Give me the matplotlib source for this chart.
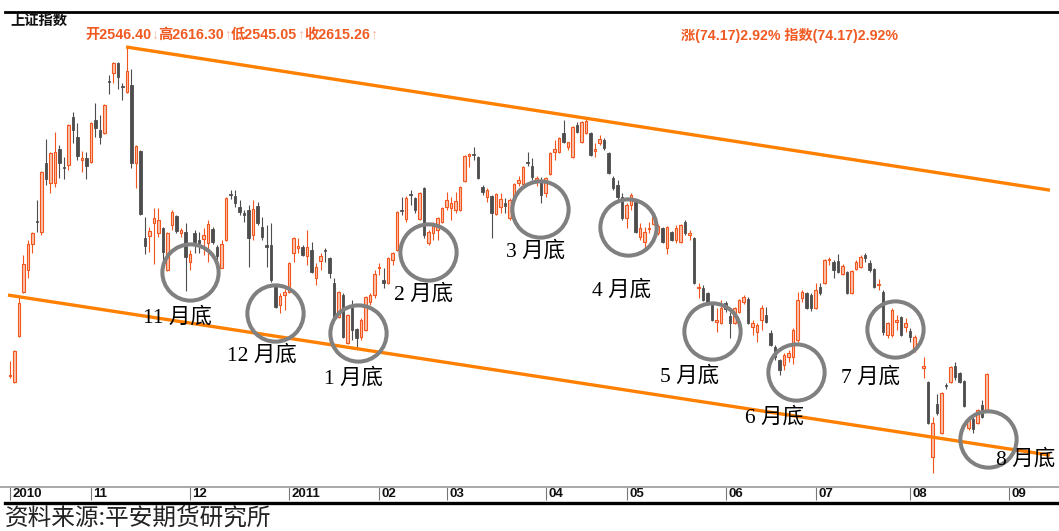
import numpy as np
import matplotlib
matplotlib.use("Agg")
import matplotlib.pyplot as plt
from matplotlib.lines import Line2D
from matplotlib.transforms import offset_copy

plt.rcParams['font.family'] = ['Noto Sans CJK SC', 'DejaVu Sans']

# ---------------- data (上证指数 daily OHLC) ----------------
opens = [2611, 2600, 2684, 2765, 2805, 2852, 2895, 2874, 3001, 2964, 2964, 3026, 2993, 2997, 3085, 3048, 3006, 3010, 3003, 3079,
         3061, 3056, 3151, 3165, 3184, 3142, 3131, 3143, 3001, 3023, 2863, 2867, 2891, 2873, 2882, 2805, 2887, 2904, 2873, 2874,
         2820, 2873, 2860, 2862, 2854, 2880, 2847, 2809, 2860, 2944, 2940, 2920, 2909, 2915, 2869, 2922, 2884, 2851, 2851, 2776,
         2741, 2759, 2765, 2836, 2845, 2847, 2831, 2842, 2790, 2821, 2841, 2827, 2781, 2719, 2759, 2671, 2735, 2697, 2682, 2695,
         2746, 2759, 2809, 2787, 2781, 2823, 2842, 2915, 2898, 2944, 2937, 2898, 2955, 2854, 2873, 2878, 2893, 2920, 2918, 2915,
         2915, 2968, 3014, 3017, 3012, 2957, 2938, 2940, 2907, 2920, 2927, 2900, 2933, 2964, 2962, 3002, 2995, 2970, 2966, 2946,
         2981, 3021, 3021, 3056, 3030, 3012, 3070, 3039, 3056, 3056, 3023, 3037, 3043, 3019, 2973, 2960, 2938, 2900, 2924, 2929,
         2865, 2856, 2880, 2889, 2873, 2882, 2845, 2874, 2860, 2856, 2893, 2869, 2863, 2772, 2772, 2763, 2744, 2710, 2708, 2744,
         2721, 2708, 2728, 2746, 2752, 2701, 2691, 2713, 2723, 2690, 2664, 2640, 2631, 2646, 2646, 2677, 2754, 2763, 2759, 2735,
         2774, 2781, 2823, 2820, 2821, 2798, 2801, 2763, 2807, 2810, 2832, 2818, 2807, 2777, 2765, 2686, 2686, 2710, 2719, 2701,
         2693, 2658, np.nan, 2625, 2600, 2463, 2560, 2507, 2595, 2600, 2629, 2616, 2602, 2516, 2532, 2525, 2558, 2546.40]
highs = [2638, 2659, 2755, 2832, 2860, 2874, 2933, 2986, 3045, 3020, 3057, 3034, 3012, 3072, 3094, 3074, 3023, 3021, 3076, 3111,
         3089, 3109, 3162, 3186, 3186, 3147, 3213, 3173, 3033, 3025, 2902, 2884, 2918, 2918, 2884, 2875, 2915, 2906, 2882, 2891,
         2842, 2878, 2874, 2882, 2896, 2884, 2851, 2860, 2939, 2951, 2951, 2933, 2915, 2924, 2933, 2929, 2902, 2887, 2891, 2778,
         2763, 2770, 2820, 2865, 2863, 2851, 2878, 2856, 2818, 2836, 2845, 2829, 2790, 2767, 2763, 2725, 2750, 2699, 2717, 2757,
         2763, 2805, 2818, 2809, 2829, 2838, 2913, 2938, 2940, 2951, 2938, 2948, 2957, 2878, 2893, 2902, 2920, 2948, 2938, 2948,
         2959, 3016, 3019, 3030, 3014, 2960, 2955, 2942, 2946, 2946, 2937, 2937, 2964, 2977, 2995, 3021, 3010, 2977, 2975, 2975,
         3021, 3043, 3048, 3079, 3040, 3069, 3076, 3078, 3083, 3058, 3037, 3052, 3047, 3021, 2977, 2970, 2946, 2928, 2946, 2931,
         2891, 2884, 2893, 2904, 2889, 2884, 2886, 2876, 2887, 2889, 2896, 2878, 2865, 2781, 2777, 2765, 2746, 2735, 2750, 2748,
         2728, 2737, 2752, 2759, 2755, 2713, 2708, 2741, 2737, 2695, 2668, 2642, 2653, 2658, 2699, 2765, 2768, 2765, 2763, 2781,
         2781, 2825, 2829, 2823, 2834, 2815, 2803, 2805, 2823, 2832, 2836, 2823, 2809, 2788, 2768, 2710, 2735, 2723, 2721, 2717,
         2699, 2686, np.nan, 2646, 2602, 2536, 2578, 2582, 2598, 2629, 2637, 2618, 2604, 2534, 2536, 2551, 2567, 2616.30]
lows = [2607, 2598, 2682, 2763, 2790, 2836, 2874, 2869, 2960, 2946, 2957, 2973, 2971, 2988, 3037, 3006, 2984, 2971, 3000, 3048,
        3035, 3054, 3127, 3147, 3136, 3116, 3129, 2992, 2955, 2905, 2834, 2838, 2816, 2865, 2816, 2803, 2878, 2873, 2865, 2767,
        2805, 2836, 2836, 2832, 2820, 2853, 2809, 2808, 2858, 2935, 2920, 2906, 2893, 2810, 2860, 2887, 2860, 2810, 2783, 2735,
        2726, 2732, 2763, 2820, 2836, 2830, 2814, 2799, 2777, 2805, 2820, 2790, 2717, 2717, 2680, 2669, 2677, 2664, 2677, 2693,
        2741, 2754, 2796, 2772, 2779, 2814, 2840, 2906, 2893, 2924, 2909, 2896, 2863, 2851, 2860, 2860, 2891, 2915, 2896, 2909,
        2913, 2966, 2993, 3006, 2971, 2942, 2929, 2863, 2905, 2909, 2909, 2896, 2931, 2959, 2960, 2995, 2970, 2959, 2927, 2938,
        2979, 3006, 3019, 3037, 3024, 3010, 3056, 3037, 3054, 3013, 3012, 3034, 3024, 2980, 2951, 2933, 2896, 2882, 2915, 2872,
        2860, 2845, 2873, 2887, 2869, 2854, 2834, 2858, 2854, 2854, 2869, 2860, 2779, 2754, 2748, 2744, 2711, 2691, 2706, 2728,
        2680, 2706, 2726, 2743, 2706, 2686, 2673, 2695, 2708, 2666, 2640, 2613, 2622, 2637, 2633, 2673, 2746, 2733, 2730, 2733,
        2759, 2779, 2814, 2790, 2799, 2796, 2761, 2761, 2805, 2808, 2820, 2801, 2772, 2768, 2686, 2680, 2682, 2695, 2684, 2691,
        2673, 2655, np.nan, 2607, 2523, 2433, 2540, 2505, 2587, 2598, 2604, 2598, 2554, 2512, 2507, 2523, 2534, 2545.05]
closes = [2613, 2657, 2744, 2816, 2852, 2873, 2893, 2984, 2971, 3019, 3021, 3001, 2992, 3070, 3061, 3014, 3010, 2995, 3074, 3065,
          3048, 3107, 3149, 3184, 3158, 3140, 3169, 3001, 3032, 2907, 2849, 2876, 2900, 2896, 2838, 2873, 2911, 2876, 2878, 2829,
          2834, 2856, 2854, 2869, 2889, 2856, 2831, 2852, 2937, 2942, 2927, 2911, 2906, 2863, 2917, 2891, 2865, 2847, 2787, 2737,
          2757, 2765, 2818, 2863, 2849, 2832, 2847, 2801, 2810, 2831, 2839, 2799, 2719, 2765, 2682, 2723, 2695, 2680, 2713, 2755,
          2759, 2798, 2810, 2781, 2827, 2836, 2911, 2913, 2937, 2942, 2915, 2946, 2869, 2874, 2889, 2900, 2918, 2933, 2927, 2931,
          2957, 3014, 3017, 3015, 2973, 2948, 2951, 2909, 2944, 2935, 2922, 2933, 2962, 2970, 2993, 3000, 2975, 2973, 2942, 2973,
          3019, 3026, 3046, 3039, 3039, 3067, 3057, 3076, 3078, 3015, 3026, 3045, 3028, 2982, 2955, 2938, 2900, 2924, 2942, 2874,
          2882, 2874, 2882, 2902, 2885, 2856, 2884, 2860, 2882, 2887, 2873, 2873, 2781, 2774, 2750, 2746, 2713, 2713, 2735, 2733,
          2708, 2735, 2750, 2755, 2708, 2708, 2704, 2735, 2710, 2668, 2646, 2622, 2649, 2653, 2695, 2750, 2765, 2735, 2735, 2768,
          2763, 2823, 2825, 2805, 2801, 2812, 2763, 2803, 2820, 2829, 2827, 2805, 2774, 2779, 2691, 2708, 2732, 2713, 2686, 2708,
          2682, 2682, np.nan, 2629, 2525, 2525, 2543, 2580, 2593, 2627, 2609, 2600, 2556, 2530, 2514, 2549, 2536, 2615.26]

month_labels = ['2010', '11', '12', '2011', '02', '03', '04', '05', '06', '07', '08', '09']
month_first_idx = [0, 18, 40, 62, 82, 97, 119, 137, 159, 179, 200, 222]

# channel (trend) lines: (index, price) anchors
upper_line_idx = [25.8, 231.1]
upper_line_val = [3213, 2951]
lower_line_idx = [-0.45, 231.1]
lower_line_val = [2759, 2466]

# month-end bottoms: circle centres and label positions
bottom_names = ['11', '12', '1', '2', '3', '4', '5', '6', '7', '8']
circle_idx = [40.0, 58.9, 77.3, 92.9, 117.8, 137.3, 156.0, 174.7, 196.7, 217.3]
circle_val = [2801, 2726, 2690, 2838, 2917, 2884, 2693, 2618, 2697, 2496]
label_idx = [37.3, 56.0, 76.4, 91.9, 116.9, 136.0, 151.1, 169.8, 191.3, 225.8]
label_val = [2719, 2648, 2607, 2761, 2838, 2768, 2611, 2536, 2609, 2459]

header_left = [("开2546.40", "#F05A22"), ("↓", "#F7B9A2"), ("高2616.30", "#F05A22"), ("↑", "#F7B9A2"),
               ("低2545.05", "#F05A22"), ("↑", "#F7B9A2"), ("收2615.26", "#F05A22"), ("↑", "#F7B9A2")]
header_right = "涨(74.17)2.92% 指数(74.17)2.92%"

# ---------------- figure ----------------
W, H = 1059, 531
fig = plt.figure(figsize=(W / 100, H / 100), dpi=100)
fig.patch.set_facecolor('white')
ax = fig.add_axes([0, 1 - 487 / H, 1, (487 - 12) / H])
ax.set_xlim(-2.222, 233.11)
ax.set_ylim(2407.8, 3277.0)
for s in ['top', 'left', 'right']:
    ax.spines[s].set_visible(False)
ax.spines['bottom'].set_color('#9a9a9a')
ax.spines['bottom'].set_linewidth(1.2)
ax.set_yticks([])

o = np.array(opens, float)
h = np.array(highs, float)
l = np.array(lows, float)
c = np.array(closes, float)
x = np.arange(len(o))
valid = ~np.isnan(o)
up = (c >= o) & valid
dn = (c < o) & valid

UP_EDGE = '#F2561D'
UP_FACE = '#F9C2AC'
DN = '#4D4D4D'

ax.vlines(x[up], l[up], h[up], color=UP_EDGE, lw=0.8, zorder=2)
ax.vlines(x[dn], l[dn], h[dn], color=DN, lw=0.8, zorder=2)
body_lo = np.minimum(o, c)
body_h = np.maximum(np.abs(c - o), 1.5)
ax.bar(x[up], body_h[up], bottom=body_lo[up], width=0.62, facecolor=UP_FACE,
       edgecolor=UP_EDGE, linewidth=0.8, zorder=3)
ax.bar(x[dn], body_h[dn], bottom=body_lo[dn], width=0.62, facecolor=DN,
       edgecolor=DN, linewidth=0.6, zorder=3)

# channel lines
ax.plot(upper_line_idx, upper_line_val, color='#FF8000', lw=2.4, zorder=4, solid_capstyle='butt')
ax.plot(lower_line_idx, lower_line_val, color='#FF8000', lw=2.4, zorder=4, solid_capstyle='butt')

# circles (drawn as markers so they stay round)
ax.plot(circle_idx, circle_val, 'o', ms=40.5, mfc='none', mec='#808080', mew=2.9, zorder=5)
for name, lx, ly in zip(bottom_names, label_idx, label_val):
    ax.text(lx, ly, f"{name} 月底", ha='center', va='center', fontsize=15.5,
            family=['Liberation Serif', 'Noto Sans CJK SC'], color='black', zorder=6)

# month axis
ax.set_xticks(month_first_idx)
ax.set_xticklabels([])
ax.tick_params(axis='x', direction='out', length=9, width=0.8, color='#777777')
xt = ax.get_xaxis_transform()
xt_off = offset_copy(xt, fig=fig, x=2.5, y=-7, units='dots')
for idx, lab in zip(month_first_idx, month_labels):
    ax.text(idx, 0, lab, transform=xt_off, ha='left', va='center', fontsize=9.5,
            fontweight='bold', family=['Liberation Sans Narrow', 'Liberation Sans', 'DejaVu Sans'],
            color='#111111')

# figure-level rules
fig.add_artist(Line2D([5 / W, 1], [1 - 12 / H, 1 - 12 / H], color='black', lw=2.0,
                      transform=fig.transFigure))
fig.add_artist(Line2D([5 / W, 1], [1 - 503 / H, 1 - 503 / H], color='black', lw=2.4,
                      transform=fig.transFigure))

# texts
fig.text(10 / W, 1 - 21 / H, "上证指数", ha='left', va='center', fontsize=10.3, fontweight='bold',
         color='#111111')

renderer = fig.canvas.get_renderer()
cx = 85
for s, col in header_left:
    t = fig.text(cx / W, 1 - 35 / H, s, ha='left', va='center', fontsize=10.3, fontweight='bold',
                 color=col, family=['Liberation Sans', 'Noto Sans CJK SC', 'DejaVu Sans'])
    cx += t.get_window_extent(renderer).width
fig.text(681 / W, 1 - 35 / H, header_right, ha='left', va='center', fontsize=10.2, fontweight='bold',
         color='#F05A22', family=['Liberation Sans', 'Noto Sans CJK SC', 'DejaVu Sans'])

fig.text(5 / W, 1 - 518 / H, "资料来源:平安期货研究所", ha='left', va='center', fontsize=17,
         color='#222222')

fig.savefig('out.png', dpi=100, facecolor='white')
